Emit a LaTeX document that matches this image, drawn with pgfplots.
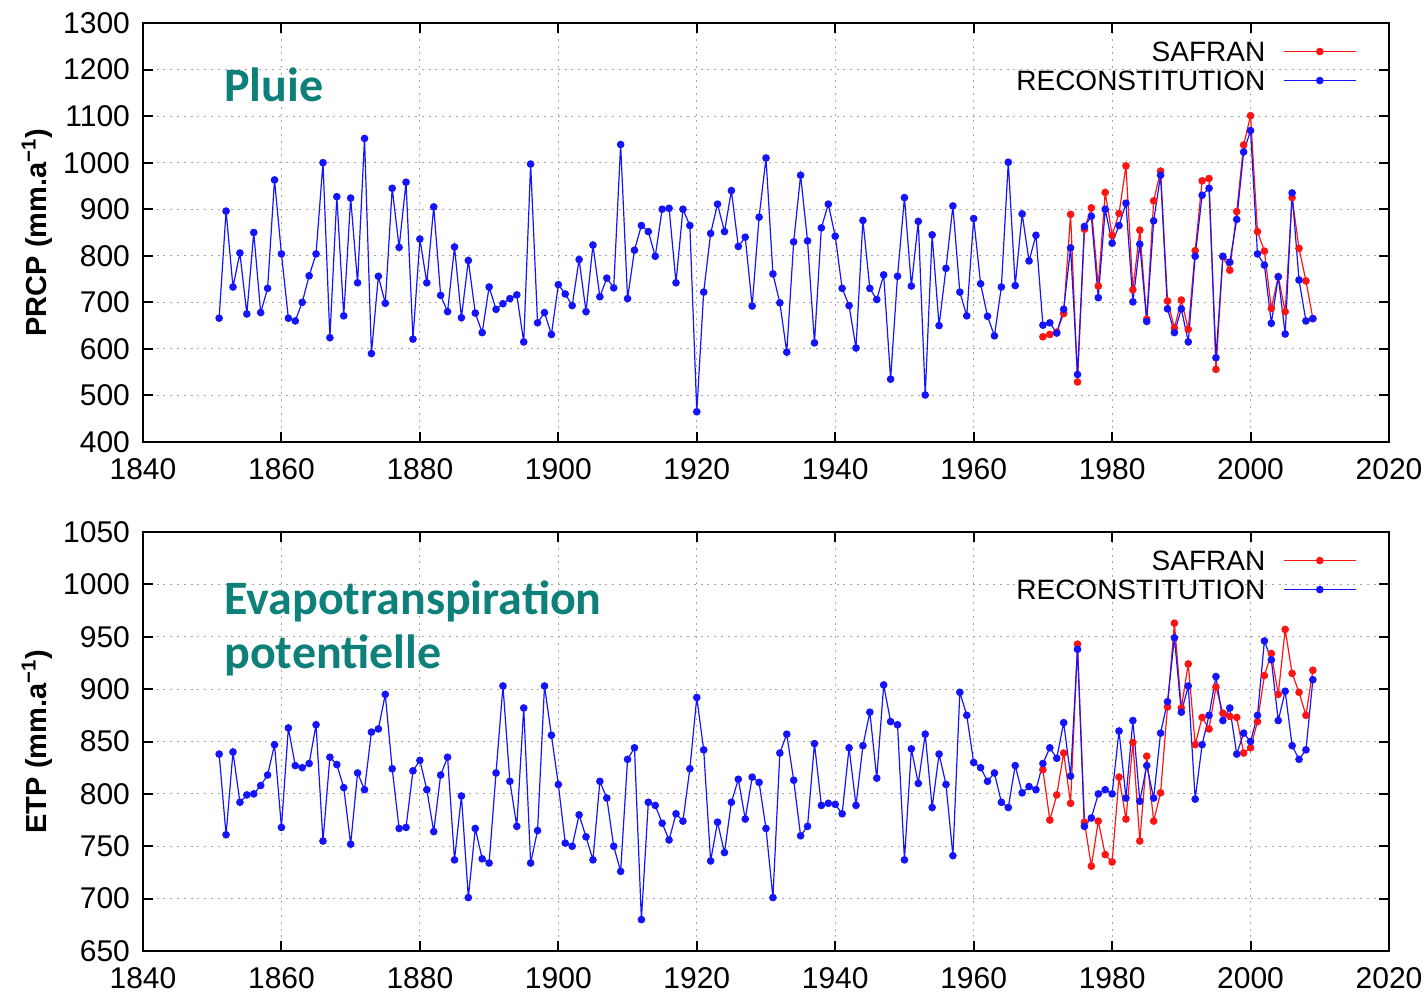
\documentclass[border=0pt]{standalone}
\usepackage{fontspec}
\setmainfont{Liberation Sans}
\newfontfamily\headfont{Carlito}
\usepackage{pgfplots}
\pgfplotsset{compat=1.18}
\usepackage{pgfplotstable}

\definecolor{headteal}{RGB}{14,128,122}
\definecolor{safranred}{RGB}{255,20,20}
\definecolor{reconblue}{RGB}{20,20,255}

% Annual precipitation (mm/a)
\pgfplotstableread{
year val
1851 666
1852 896
1853 733
1854 806
1855 675
1856 850
1857 678
1858 730
1859 963
1860 804
1861 666
1862 660
1863 700
1864 757
1865 804
1866 1000
1867 624
1868 927
1869 671
1870 924
1871 742
1872 1052
1873 590
1874 756
1875 698
1876 945
1877 818
1878 958
1879 621
1880 836
1881 742
1882 905
1883 715
1884 680
1885 819
1886 667
1887 790
1888 677
1889 635
1890 733
1891 685
1892 697
1893 708
1894 716
1895 615
1896 997
1897 656
1898 678
1899 631
1900 738
1901 718
1902 693
1903 792
1904 680
1905 823
1906 712
1907 752
1908 731
1909 1039
1910 708
1911 812
1912 865
1913 852
1914 799
1915 900
1916 902
1917 742
1918 900
1919 865
1920 465
1921 722
1922 848
1923 911
1924 852
1925 940
1926 820
1927 840
1928 692
1929 883
1930 1010
1931 761
1932 699
1933 593
1934 830
1935 973
1936 832
1937 613
1938 860
1939 911
1940 842
1941 730
1942 693
1943 602
1944 876
1945 730
1946 706
1947 759
1948 535
1949 756
1950 925
1951 735
1952 874
1953 501
1954 845
1955 650
1956 773
1957 907
1958 722
1959 671
1960 880
1961 740
1962 670
1963 628
1964 733
1965 1001
1966 736
1967 890
1968 789
1969 844
1970 651
1971 656
1972 634
1973 685
1974 817
1975 545
1976 863
1977 885
1978 710
1979 900
1980 827
1981 865
1982 913
1983 701
1984 825
1985 659
1986 875
1987 973
1988 686
1989 635
1990 686
1991 615
1992 799
1993 930
1994 945
1995 581
1996 799
1997 786
1998 878
1999 1023
2000 1069
2001 804
2002 780
2003 655
2004 755
2005 632
2006 935
2007 748
2008 660
2009 665
}\prcprecon

\pgfplotstableread{
year val
1970 626
1971 631
1972 636
1973 676
1974 889
1975 529
1976 857
1977 903
1978 735
1979 936
1980 844
1981 891
1982 993
1983 727
1984 855
1985 664
1986 918
1987 982
1988 703
1989 645
1990 705
1991 642
1992 811
1993 961
1994 966
1995 556
1996 798
1997 769
1998 895
1999 1038
2000 1101
2001 852
2002 810
2003 687
2004 755
2005 680
2006 925
2007 816
2008 746
2009 665
}\prcpsafran

% Annual potential evapotranspiration (mm/a)
\pgfplotstableread{
year val
1851 838
1852 761
1853 840
1854 792
1855 799
1856 800
1857 808
1858 818
1859 847
1860 768
1861 863
1862 827
1863 825
1864 829
1865 866
1866 755
1867 835
1868 828
1869 806
1870 752
1871 820
1872 804
1873 859
1874 862
1875 895
1876 824
1877 767
1878 768
1879 822
1880 832
1881 804
1882 764
1883 818
1884 835
1885 737
1886 798
1887 701
1888 767
1889 738
1890 734
1891 820
1892 903
1893 812
1894 769
1895 882
1896 734
1897 765
1898 903
1899 856
1900 809
1901 753
1902 750
1903 780
1904 759
1905 737
1906 812
1907 796
1908 750
1909 726
1910 833
1911 844
1912 680
1913 792
1914 789
1915 772
1916 756
1917 781
1918 774
1919 824
1920 892
1921 842
1922 736
1923 773
1924 744
1925 792
1926 814
1927 776
1928 816
1929 811
1930 767
1931 701
1932 839
1933 857
1934 813
1935 760
1936 769
1937 848
1938 789
1939 791
1940 790
1941 781
1942 844
1943 789
1944 846
1945 878
1946 815
1947 904
1948 869
1949 866
1950 737
1951 843
1952 810
1953 857
1954 787
1955 838
1956 809
1957 741
1958 897
1959 875
1960 830
1961 825
1962 812
1963 820
1964 792
1965 787
1966 827
1967 801
1968 807
1969 804
1970 829
1971 844
1972 834
1973 868
1974 817
1975 938
1976 769
1977 777
1978 800
1979 804
1980 800
1981 860
1982 796
1983 870
1984 793
1985 827
1986 796
1987 858
1988 888
1989 949
1990 878
1991 903
1992 795
1993 847
1994 875
1995 912
1996 870
1997 882
1998 838
1999 858
2000 850
2001 875
2002 946
2003 928
2004 870
2005 898
2006 846
2007 833
2008 842
2009 909
}\etprecon

\pgfplotstableread{
year val
1970 823
1971 775
1972 799
1973 839
1974 791
1975 943
1976 773
1977 731
1978 774
1979 742
1980 735
1981 816
1982 776
1983 849
1984 755
1985 836
1986 774
1987 801
1988 883
1989 963
1990 882
1991 924
1992 847
1993 873
1994 862
1995 902
1996 877
1997 874
1998 873
1999 839
2000 844
2001 869
2002 913
2003 934
2004 895
2005 957
2006 915
2007 897
2008 875
2009 918
}\etpsafran

\pgfplotsset{
  panel/.style={
    width=623pt, height=209.5pt, scale only axis,
    xmin=1840, xmax=2020, xtick={1840,1860,...,2020},
    grid=major,
    grid style={gray!70, line width=0.5pt, dash pattern=on 1pt off 2.4pt},
    axis line style={line width=1.1pt},
    tick align=inside, major tick length=5pt,
    tick style={black, line width=1pt},
    tick label style={font=\fontsize{15}{18}\selectfont},
    /pgf/number format/assume math mode=true,
    /pgf/number format/1000 sep={},
    xticklabel style={yshift=-4.5pt},
    yticklabel style={xshift=-3pt},
    every axis y label/.style={at={(axis description cs:0,0.5)}, xshift=-53pt,
      rotate=90, anchor=center, font=\bfseries\fontsize{14.5}{17}\selectfont},
    legend style={draw=none, fill=none, at={(rel axis cs:0.979,0.971)},
      anchor=north east, font=\fontsize{14}{16}\selectfont, row sep=2.5pt,
      column sep=8pt,
      nodes={inner sep=1pt, text height=10pt, text depth=0pt}},
    legend plot pos=right,
    legend cell align=right,
    legend image code/.code={\draw[##1, mark repeat=2, mark phase=2]
      plot coordinates {(0pt,0pt) (18pt,0pt) (36pt,0pt)};},
  },
  safran/.style={safranred, line width=0.6pt, mark=*, mark size=1.6pt,
    mark options={solid, fill=safranred, draw=safranred}},
  recon/.style={reconblue, line width=0.6pt, mark=*, mark size=1.6pt,
    mark options={solid, fill=reconblue, draw=reconblue}},
}

\begin{document}
\begin{tikzpicture}
\useasboundingbox (-71.5pt,-21pt) rectangle (642.5pt,475.5pt);

% Precipitation
\begin{axis}[panel, at={(0pt,254.5pt)}, anchor=south west,
  ymin=400, ymax=1300, ytick={400,500,...,1300},
  ylabel={PRCP (mm.a\textsuperscript{−1})}]
  \addplot[safran] table[x=year, y=val] {\prcpsafran};
  \addlegendentry{SAFRAN}
  \addplot[recon] table[x=year, y=val] {\prcprecon};
  \addlegendentry{RECONSTITUTION}
  \node[anchor=base west, inner sep=0pt, text=headteal,
    font=\headfont\bfseries\fontsize{24}{28}\selectfont]
    at (axis cs:1851.7,1132) {Pluie};
\end{axis}

% Potential evapotranspiration
\begin{axis}[panel, at={(0pt,0pt)}, anchor=south west,
  ymin=650, ymax=1050, ytick={650,700,...,1050},
  ylabel={ETP (mm.a\textsuperscript{−1})}]
  \addplot[safran] table[x=year, y=val] {\etpsafran};
  \addlegendentry{SAFRAN}
  \addplot[recon] table[x=year, y=val] {\etprecon};
  \addlegendentry{RECONSTITUTION}
  \node[anchor=base west, inner sep=0pt, text=headteal,
    font=\headfont\bfseries\fontsize{24}{28}\selectfont]
    at (axis cs:1851.7,970.8) {Evapotranspiration};
  \node[anchor=base west, inner sep=0pt, text=headteal,
    font=\headfont\bfseries\fontsize{24}{28}\selectfont]
    at (axis cs:1851.7,920) {potentielle};
\end{axis}
\end{tikzpicture}
\end{document}
